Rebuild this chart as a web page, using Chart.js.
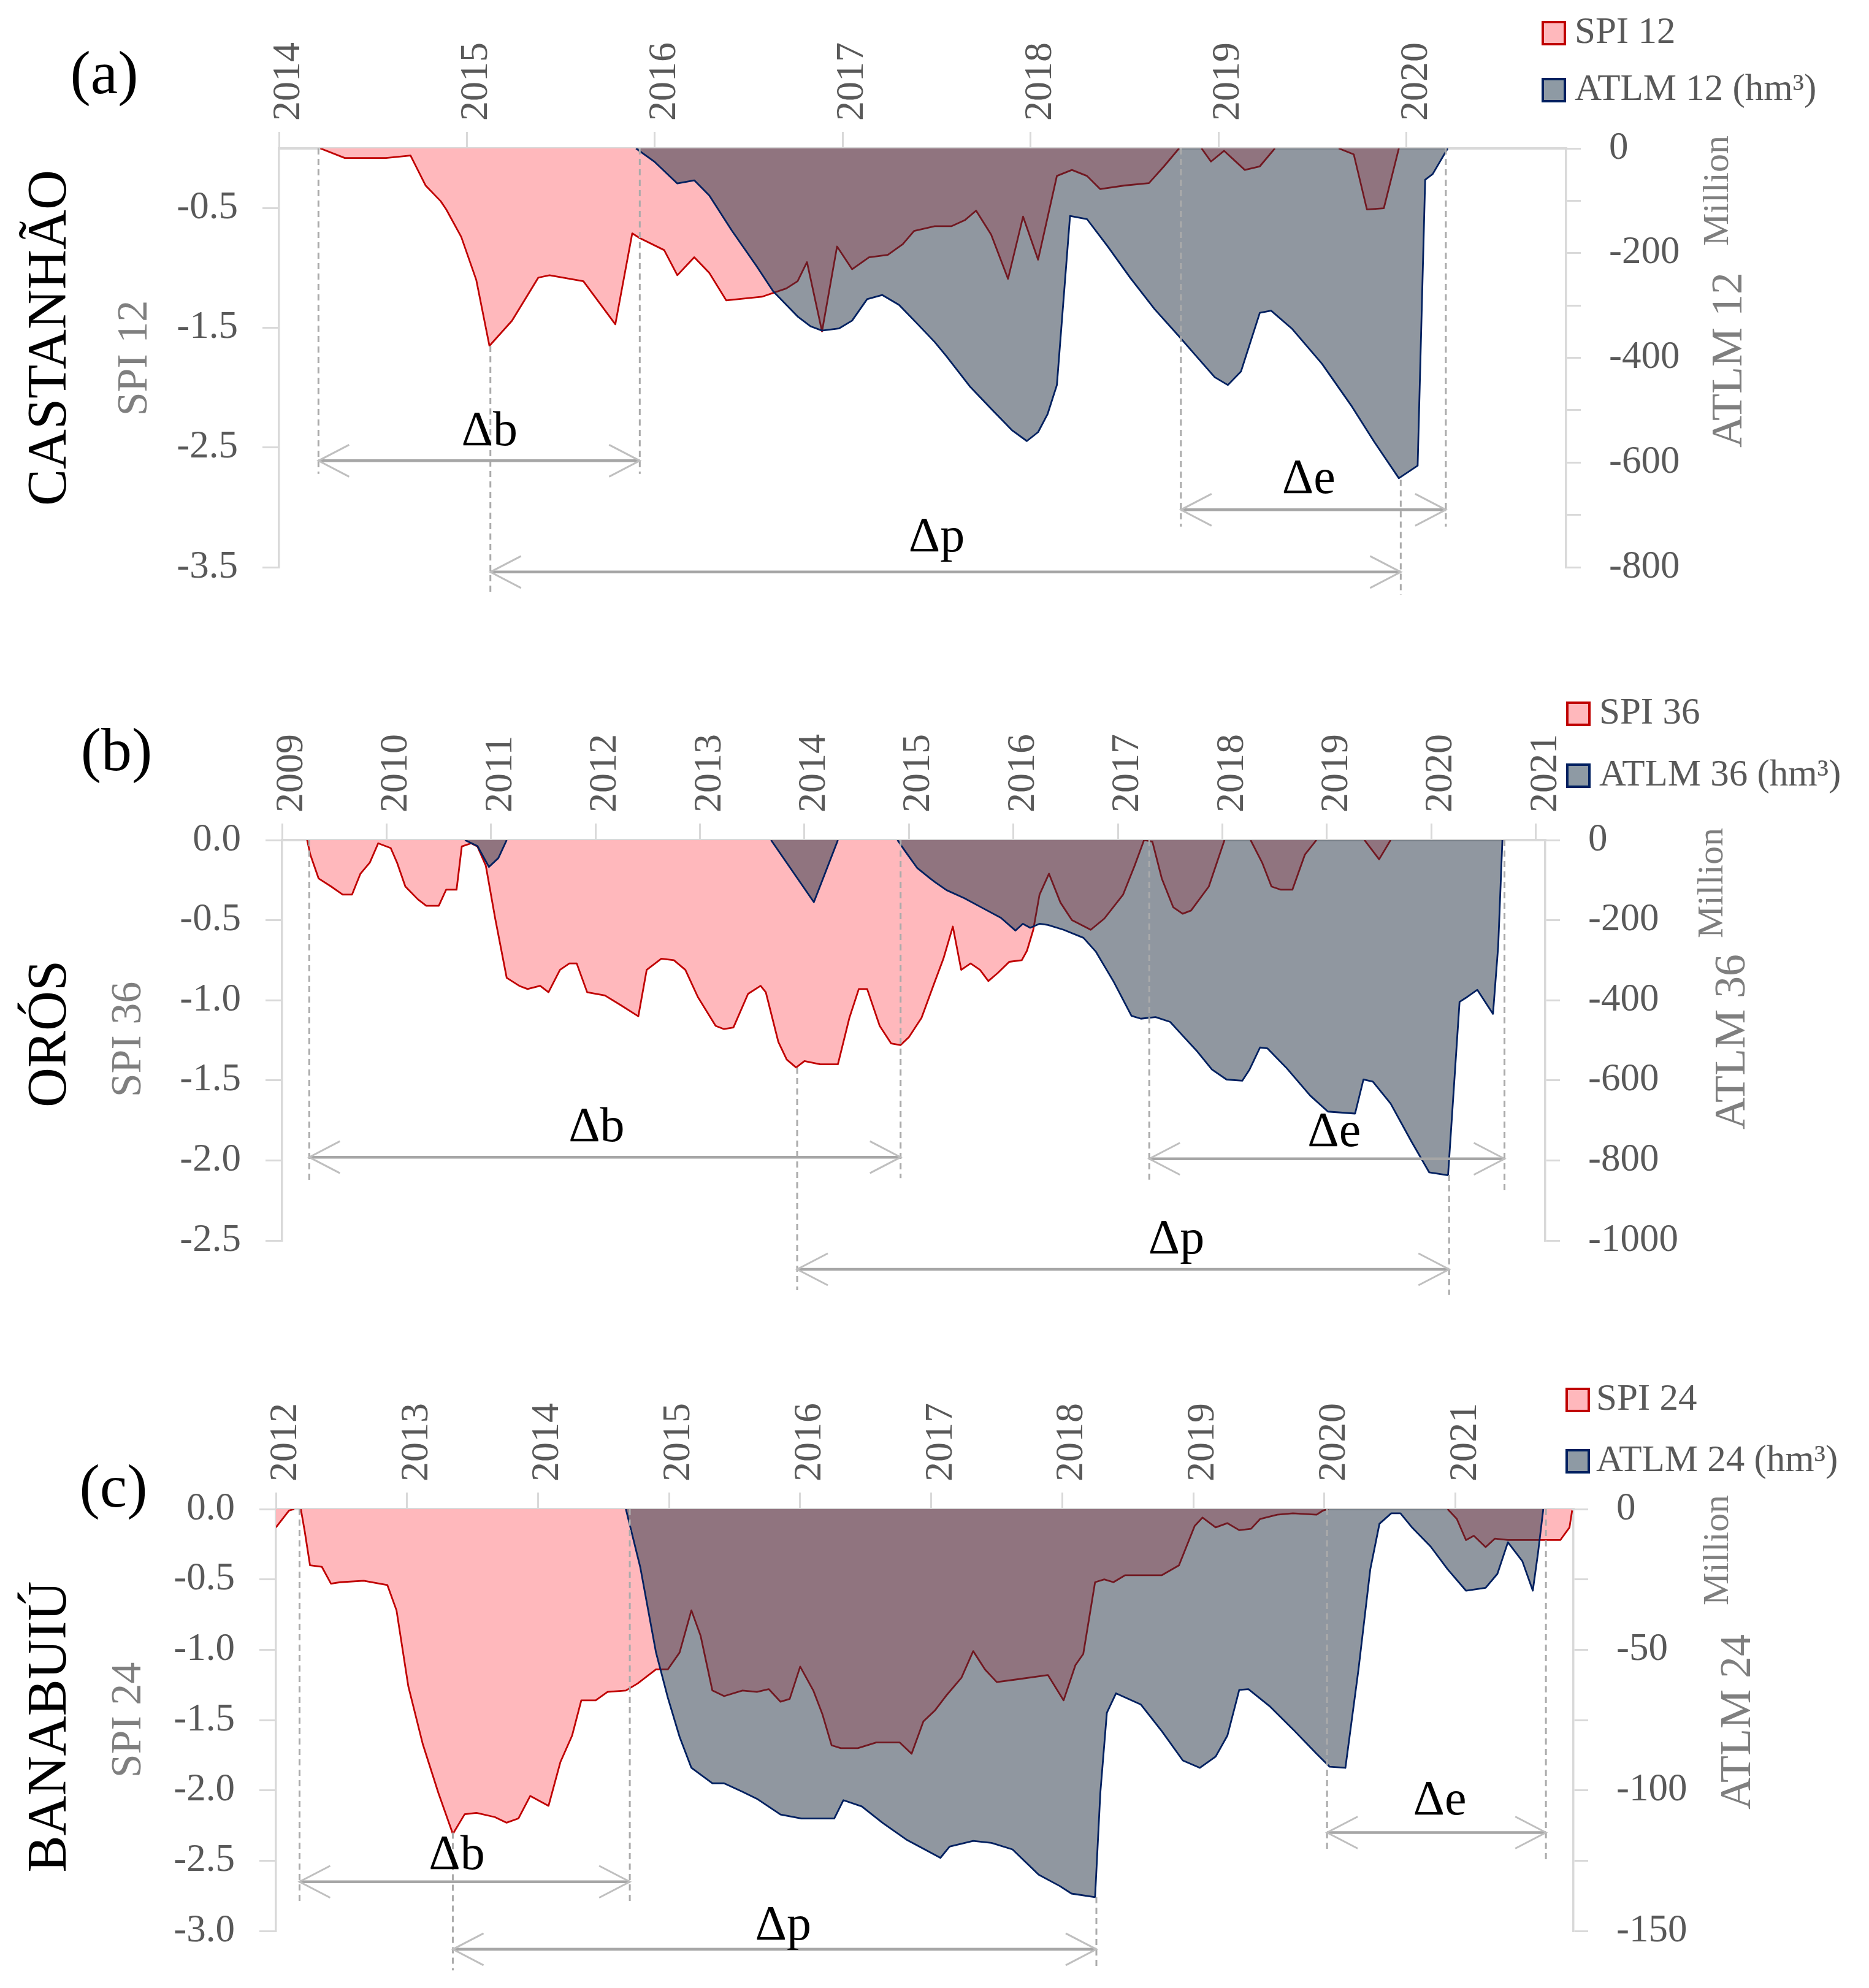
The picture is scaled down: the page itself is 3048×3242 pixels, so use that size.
<!DOCTYPE html>
<html>
<head>
<meta charset="utf-8">
<script src="https://cdn.jsdelivr.net/npm/chart.js@4.4.0/dist/chart.umd.min.js"></script>
<style>
  body { margin: 0; background: #fff; width: 3048px; height: 3242px; position: relative; overflow: hidden; }
  canvas { position: absolute; left: 0; }
</style>
</head>
<body>
<canvas id="chart-a" width="3048" height="1050" style="top:0px"></canvas>
<canvas id="chart-b" width="3048" height="1040" style="top:1100px"></canvas>
<canvas id="chart-c" width="3048" height="1042" style="top:2200px"></canvas>
<script>
// (a) Castanhão - SPI 12 and ATLM 12, x in decimal years
const castanhaoSpiT = [2014.22, 2014.35, 2014.57, 2014.70, 2014.78, 2014.86, 2014.89, 2014.97, 2015.05, 2015.12,
  2015.24, 2015.38, 2015.44, 2015.62, 2015.79, 2015.88, 2015.92, 2016.05, 2016.12, 2016.21,
  2016.29, 2016.38, 2016.57, 2016.70, 2016.76, 2016.81, 2016.89, 2016.97, 2017.05, 2017.14,
  2017.24, 2017.32, 2017.38, 2017.49, 2017.58, 2017.65, 2017.71, 2017.79, 2017.88, 2017.96,
  2018.04, 2018.14, 2018.22, 2018.30, 2018.37, 2018.50, 2018.63, 2018.71, 2018.79, 2018.91,
  2018.96, 2019.03, 2019.14, 2019.22, 2019.30, 2019.64, 2019.72, 2019.79, 2019.88, 2019.96];
const castanhaoSpi = [0, -0.08, -0.08, -0.06, -0.31, -0.44, -0.51, -0.74, -1.10, -1.65,
  -1.44, -1.08, -1.06, -1.11, -1.47, -0.71, -0.75, -0.85, -1.06, -0.91,
  -1.04, -1.27, -1.24, -1.17, -1.11, -0.95, -1.53, -0.82, -1.01, -0.91,
  -0.89, -0.80, -0.69, -0.65, -0.65, -0.60, -0.52, -0.72, -1.09, -0.57,
  -0.93, -0.23, -0.18, -0.23, -0.34, -0.31, -0.29, -0.15, 0, 0,
  -0.11, -0.02, -0.18, -0.15, 0, 0, -0.05, -0.51, -0.50, 0];
const castanhaoAtlmT = [2015.90, 2016.00, 2016.12, 2016.21, 2016.29, 2016.41, 2016.54, 2016.63, 2016.76, 2016.83,
  2016.89, 2016.98, 2017.05, 2017.13, 2017.21, 2017.30, 2017.40, 2017.49, 2017.55, 2017.68,
  2017.80, 2017.90, 2017.98, 2018.04, 2018.09, 2018.14, 2018.21, 2018.30, 2018.41, 2018.53,
  2018.66, 2018.79, 2018.88, 2018.98, 2019.05, 2019.12, 2019.22, 2019.28, 2019.39, 2019.55,
  2019.71, 2019.83, 2019.96, 2020.06, 2020.10, 2020.14, 2020.22];
const castanhaoAtlm = [0, -26, -67, -61, -90, -157, -224, -273, -321, -340,
  -348, -344, -329, -288, -280, -299, -336, -370, -396, -456,
  -501, -538, -559, -542, -508, -452, -129, -135, -187, -247,
  -307, -359, -396, -437, -452, -426, -314, -310, -344, -411,
  -493, -561, -630, -606, -60, -49, 0];
const castanhaoYears = [2014, 2015, 2016, 2017, 2018, 2019, 2020];
const castanhaoSpiTicks = [-3.5, -2.5, -1.5, -0.5];
const castanhaoAtlmTicks = [-800, -700, -600, -500, -400, -300, -200, -100, 0];

// (b) Orós - SPI 36 and ATLM 36
const orosSpiT = [2009.24, 2009.27, 2009.35, 2009.47, 2009.58, 2009.67, 2009.75, 2009.84, 2009.92, 2010.04,
  2010.10, 2010.18, 2010.30, 2010.38, 2010.50, 2010.57, 2010.67, 2010.72, 2010.81, 2010.87,
  2010.95, 2011.04, 2011.15, 2011.27, 2011.35, 2011.47, 2011.55, 2011.66, 2011.75, 2011.82,
  2011.92, 2012.09, 2012.24, 2012.41, 2012.49, 2012.63, 2012.75, 2012.86, 2012.98, 2013.15,
  2013.23, 2013.32, 2013.46, 2013.58, 2013.63, 2013.75, 2013.83, 2013.92, 2014.00, 2014.15,
  2014.32, 2014.43, 2014.52, 2014.60, 2014.72, 2014.83, 2014.92, 2015.00, 2015.12, 2015.25,
  2015.33, 2015.42, 2015.50, 2015.59, 2015.68, 2015.76, 2015.85, 2015.96, 2016.08, 2016.13,
  2016.19, 2016.25, 2016.34, 2016.45, 2016.56, 2016.74, 2016.87, 2017.05, 2017.16, 2017.25,
  2017.33, 2017.42, 2017.53, 2017.62, 2017.70, 2017.87, 2018.02, 2018.27, 2018.38, 2018.47,
  2018.56, 2018.67, 2018.79, 2018.90, 2019.36, 2019.50, 2019.61];
const orosSpi = [0, -0.09, -0.24, -0.29, -0.34, -0.34, -0.21, -0.14, -0.02, -0.05,
  -0.14, -0.29, -0.37, -0.41, -0.41, -0.31, -0.31, -0.04, -0.02, -0.04,
  -0.16, -0.49, -0.86, -0.91, -0.93, -0.91, -0.95, -0.81, -0.77, -0.77,
  -0.95, -0.97, -1.03, -1.10, -0.81, -0.74, -0.75, -0.81, -0.98, -1.16,
  -1.18, -1.17, -0.96, -0.91, -0.95, -1.26, -1.37, -1.42, -1.38, -1.40,
  -1.40, -1.11, -0.93, -0.93, -1.16, -1.27, -1.28, -1.23, -1.11, -0.88,
  -0.74, -0.54, -0.81, -0.77, -0.81, -0.88, -0.83, -0.76, -0.75, -0.69,
  -0.56, -0.34, -0.21, -0.39, -0.50, -0.56, -0.49, -0.34, -0.16, 0,
  -0.01, -0.24, -0.42, -0.46, -0.44, -0.29, 0, 0, -0.14, -0.29,
  -0.31, -0.31, -0.09, 0, 0, -0.12, 0];
const orosAtlmT = [2010.75, 2010.87, 2010.98, 2011.07, 2011.15, 2013.68, 2014.09, 2014.32, 2014.89, 2014.97,
  2015.08, 2015.20, 2015.25, 2015.36, 2015.53, 2015.70, 2015.88, 2016.02, 2016.09, 2016.16,
  2016.25, 2016.33, 2016.48, 2016.67, 2016.79, 2016.96, 2017.13, 2017.22, 2017.36, 2017.50,
  2017.64, 2017.76, 2017.90, 2018.04, 2018.19, 2018.26, 2018.36, 2018.43, 2018.61, 2018.84,
  2019.01, 2019.27, 2019.35, 2019.44, 2019.61, 2019.81, 2019.98, 2020.16, 2020.27, 2020.33,
  2020.44, 2020.59, 2020.64, 2020.68];
const orosAtlm = [0, -15, -67, -45, 0, 0, -155, 0, 0, -30,
  -70, -95, -105, -125, -145, -169, -194, -226, -209, -219,
  -209, -212, -224, -244, -279, -354, -439, -446, -442, -454,
  -494, -528, -573, -598, -601, -573, -518, -520, -568, -638,
  -678, -683, -598, -603, -658, -753, -830, -837, -404, -394,
  -374, -434, -264, 0];
const orosYears = [2009, 2010, 2011, 2012, 2013, 2014, 2015, 2016, 2017, 2018, 2019, 2020, 2021];
const orosSpiTicks = [-2.5, -2.0, -1.5, -1.0, -0.5, 0];
const orosAtlmTicks = [-1000, -800, -600, -400, -200, 0];

// (c) Banabuiú - SPI 24 and ATLM 24
const banabuiuSpiT = [2012.00, 2012.10, 2012.14, 2012.19, 2012.22, 2012.26, 2012.35, 2012.42, 2012.49, 2012.67,
  2012.85, 2012.92, 2013.01, 2013.12, 2013.24, 2013.35, 2013.44, 2013.53, 2013.67, 2013.76,
  2013.85, 2013.94, 2014.08, 2014.17, 2014.26, 2014.33, 2014.44, 2014.53, 2014.67, 2014.76,
  2014.90, 2014.99, 2015.08, 2015.17, 2015.24, 2015.33, 2015.42, 2015.56, 2015.67, 2015.76,
  2015.85, 2015.92, 2016.00, 2016.10, 2016.17, 2016.24, 2016.31, 2016.44, 2016.58, 2016.76,
  2016.85, 2016.94, 2017.03, 2017.12, 2017.23, 2017.32, 2017.41, 2017.50, 2017.66, 2017.89,
  2018.01, 2018.10, 2018.16, 2018.25, 2018.32, 2018.39, 2018.48, 2018.76, 2018.89, 2019.01,
  2019.07, 2019.17, 2019.26, 2019.35, 2019.44, 2019.51, 2019.64, 2019.76, 2019.94, 2019.99,
  2020.03, 2020.94, 2021.01, 2021.08, 2021.14, 2021.23, 2021.30, 2021.40, 2021.62, 2021.71,
  2021.80, 2021.87, 2021.89];
const banabuiuSpi = [-0.13, -0.01, 0, 0, -0.16, -0.40, -0.41, -0.53, -0.52, -0.51,
  -0.54, -0.72, -1.26, -1.67, -2.02, -2.31, -2.17, -2.16, -2.19, -2.23,
  -2.20, -2.04, -2.11, -1.80, -1.61, -1.36, -1.36, -1.30, -1.29, -1.24,
  -1.14, -1.14, -1.02, -0.72, -0.90, -1.29, -1.33, -1.29, -1.30, -1.28,
  -1.37, -1.35, -1.12, -1.29, -1.46, -1.68, -1.70, -1.70, -1.66, -1.66,
  -1.74, -1.51, -1.43, -1.32, -1.20, -1.01, -1.14, -1.23, -1.21, -1.18,
  -1.36, -1.11, -1.03, -0.52, -0.50, -0.52, -0.47, -0.47, -0.40, -0.12,
  -0.06, -0.13, -0.10, -0.15, -0.14, -0.07, -0.04, -0.03, -0.04, -0.01,
  0, 0, -0.07, -0.22, -0.19, -0.27, -0.21, -0.22, -0.22, -0.22,
  -0.22, -0.13, -0.01];
const banabuiuAtlmT = [2014.67, 2014.78, 2014.90, 2014.99, 2015.08, 2015.17, 2015.33, 2015.42, 2015.56, 2015.67,
  2015.85, 2016.01, 2016.13, 2016.26, 2016.33, 2016.47, 2016.63, 2016.81, 2016.95, 2017.07,
  2017.14, 2017.32, 2017.46, 2017.62, 2017.82, 2017.98, 2018.07, 2018.25, 2018.29, 2018.34,
  2018.41, 2018.60, 2018.76, 2018.92, 2019.05, 2019.17, 2019.26, 2019.35, 2019.42, 2019.58,
  2019.76, 2019.94, 2020.04, 2020.16, 2020.26, 2020.35, 2020.42, 2020.51, 2020.58, 2020.67,
  2020.81, 2020.94, 2021.08, 2021.23, 2021.32, 2021.40, 2021.51, 2021.59, 2021.63, 2021.67];
const banabuiuAtlm = [0, -20.7, -51, -67, -81, -92, -97.5, -97.5, -100.5, -103,
  -108.6, -110, -110, -110, -103.5, -105.7, -111.6, -117.5, -121, -124,
  -120, -118, -118.7, -121, -130, -134, -136.7, -138, -101, -72.4,
  -65.5, -69.5, -79, -89.4, -92, -88, -80.5, -64.3, -64, -70,
  -78.3, -87, -91.6, -92, -57, -21.4, -5.2, -1.5, -1.5, -6.6,
  -13.3, -21.4, -29, -28, -23, -11.8, -18.5, -29, -15.5, 0];
const banabuiuYears = [2012, 2013, 2014, 2015, 2016, 2017, 2018, 2019, 2020, 2021];
const banabuiuSpiTicks = [-3.0, -2.5, -2.0, -1.5, -1.0, -0.5, 0];
const banabuiuAtlmTicks = [-150, -125, -100, -75, -50, -25, 0];

const FONT = "'Liberation Serif', 'Times New Roman', serif";
const GREY_TXT = '#595959';
const AXIS = '#D9D9D9';

// page layout of the three panels (page pixels)
const panels = [
  {
    canvas: 'chart-a', top: 0, area: [455, 242, 2554, 925], xMin: 2014, xMax: 2020.85,
    spiMin: -3.5, atlmMin: -800, atlmLabelStep: 200,
    spiT: castanhaoSpiT, spi: castanhaoSpi, atlmT: castanhaoAtlmT, atlm: castanhaoAtlm,
    years: castanhaoYears, spiTicks: castanhaoSpiTicks, atlmTicks: castanhaoAtlmTicks,
    spiName: 'SPI 12', atlmName: 'ATLM 12',
    tag: ['(a)', 170, 126], name: ['CASTANHÃO', 83, 551], spiTitle: [221, 584],
    million: [2802, 311], atlmTitle: [2821, 587], legend: [2516, 54, 147, 2568],
    dashes: [[2014.21, 0, -2.72], [2015.92, 0, -2.72], [2015.125, -1.65, -3.73],
             [2018.80, 0, -3.16], [2020.21, 0, -3.16], [2019.97, -2.77, -3.73]],
    arrows: [{ from: 2014.21, to: 2015.92, at: -2.61, text: 'Δb', tx: 2015.12, ty: -2.37 },
             { from: 2015.125, to: 2019.97, at: -3.54, text: 'Δp', tx: 2017.50, ty: -3.26 },
             { from: 2018.80, to: 2020.21, at: -3.02, text: 'Δe', tx: 2019.48, ty: -2.77 }]
  },
  {
    canvas: 'chart-b', top: 1100, area: [460, 1370, 2520, 2023], xMin: 2009, xMax: 2021.09,
    spiMin: -2.5, atlmMin: -1000, atlmLabelStep: 200,
    spiT: orosSpiT, spi: orosSpi, atlmT: orosAtlmT, atlm: orosAtlm,
    years: orosYears, spiTicks: orosSpiTicks, atlmTicks: orosAtlmTicks,
    spiName: 'SPI 36', atlmName: 'ATLM 36',
    tag: ['(b)', 190, 1230], name: ['ORÓS', 83, 1686], spiTitle: [211, 1695],
    million: [2793, 1440], atlmTitle: [2826, 1699], legend: [2556, 1164, 1265, 2608],
    dashes: [[2009.26, 0, -2.14], [2014.92, 0, -2.11], [2013.93, -1.42, -2.81],
             [2017.30, 0, -2.12], [2020.70, 0, -2.19], [2020.17, -2.09, -2.84]],
    arrows: [{ from: 2009.26, to: 2014.92, at: -1.98, text: 'Δb', tx: 2012.01, ty: -1.80 },
             { from: 2013.93, to: 2020.17, at: -2.68, text: 'Δp', tx: 2017.56, ty: -2.50 },
             { from: 2017.30, to: 2020.70, at: -1.99, text: 'Δe', tx: 2019.07, ty: -1.83 }]
  },
  {
    canvas: 'chart-c', top: 2200, area: [450, 2461, 2566, 3149], xMin: 2012, xMax: 2021.90,
    spiMin: -3, atlmMin: -150, atlmLabelStep: 50,
    spiT: banabuiuSpiT, spi: banabuiuSpi, atlmT: banabuiuAtlmT, atlm: banabuiuAtlm,
    years: banabuiuYears, spiTicks: banabuiuSpiTicks, atlmTicks: banabuiuAtlmTicks,
    spiName: 'SPI 24', atlmName: 'ATLM 24',
    tag: ['(c)', 185, 2431], name: ['BANABUIÚ', 83, 2816], spiTitle: [211, 2805],
    million: [2802, 2528], atlmTitle: [2835, 2808], legend: [2555, 2283, 2383, 2603],
    dashes: [[2012.18, 0, -2.79], [2014.70, 0, -2.79], [2013.35, -2.30, -3.28],
             [2018.26, -2.76, -3.26], [2020.02, 0, -2.42], [2021.69, 0, -2.51]],
    arrows: [{ from: 2012.18, to: 2014.70, at: -2.65, text: 'Δb', tx: 2013.38, ty: -2.47 },
             { from: 2013.35, to: 2018.26, at: -3.13, text: 'Δp', tx: 2015.87, ty: -2.97 },
             { from: 2020.02, to: 2021.69, at: -2.30, text: 'Δe', tx: 2020.88, ty: -2.08 }]
  }
];

// pair up x/y, and break the line where it just runs along zero
function toPoints(ts, vs) {
  const pts = [];
  ts.forEach((t, i) => {
    if (i > 0 && vs[i] === 0 && vs[i - 1] === 0) pts.push({ x: (t + ts[i - 1]) / 2, y: null });
    pts.push({ x: t, y: vs[i] });
  });
  return pts;
}

function drawText(ctx, str, x, y, size, color, rotate) {
  ctx.save();
  ctx.translate(x, y);
  if (rotate) ctx.rotate(-Math.PI / 2);
  ctx.font = size + 'px ' + FONT;
  ctx.fillStyle = color;
  ctx.textAlign = 'center';
  ctx.textBaseline = 'middle';
  ctx.fillText(str, 0, 0);
  ctx.restore();
}

// dashed guides, double arrows, side titles and legend
const extras = {
  id: 'extras',
  afterDraw(chart, args, p) {
    const ctx = chart.ctx;
    const xs = chart.scales.x, ys = chart.scales.y;
    const off = p.top;
    ctx.save();

    ctx.strokeStyle = '#ABABAB';
    ctx.lineWidth = 3;
    ctx.setLineDash([10, 7]);
    p.dashes.forEach(([t, v1, v2]) => {
      const px = xs.getPixelForValue(t);
      ctx.beginPath();
      ctx.moveTo(px, ys.getPixelForValue(v1));
      ctx.lineTo(px, ys.getPixelForValue(v2));
      ctx.stroke();
    });
    ctx.setLineDash([]);

    p.arrows.forEach(a => {
      const x1 = xs.getPixelForValue(a.from), x2 = xs.getPixelForValue(a.to), py = ys.getPixelForValue(a.at);
      ctx.strokeStyle = '#A6A6A6';
      ctx.lineWidth = 4.5;
      ctx.beginPath(); ctx.moveTo(x1, py); ctx.lineTo(x2, py); ctx.stroke();
      ctx.strokeStyle = '#BFBFBF';
      ctx.lineWidth = 3;
      ctx.beginPath(); ctx.moveTo(x1 + 50, py - 26); ctx.lineTo(x1, py); ctx.lineTo(x1 + 50, py + 26); ctx.stroke();
      ctx.beginPath(); ctx.moveTo(x2 - 50, py - 26); ctx.lineTo(x2, py); ctx.lineTo(x2 - 50, py + 26); ctx.stroke();
      drawText(ctx, a.text, xs.getPixelForValue(a.tx), ys.getPixelForValue(a.ty), 80, '#000', false);
    });

    drawText(ctx, p.tag[0], p.tag[1], p.tag[2] - off, 100, '#000', false);
    drawText(ctx, p.name[0], p.name[1], p.name[2] - off, 90, '#000', true);
    drawText(ctx, p.spiName, p.spiTitle[0], p.spiTitle[1] - off, 70, '#7F7F7F', true);
    drawText(ctx, 'Million', p.million[0], p.million[1] - off, 60, '#7F7F7F', true);
    drawText(ctx, p.atlmName, p.atlmTitle[0], p.atlmTitle[1] - off, 72, '#7F7F7F', true);

    const [bx, y1, y2, tx] = p.legend;
    const box = 36;
    ctx.lineWidth = 4;
    ctx.fillStyle = '#FFB8BC'; ctx.strokeStyle = '#C00000';
    ctx.fillRect(bx, y1 - off - box / 2, box, box); ctx.strokeRect(bx, y1 - off - box / 2, box, box);
    ctx.fillStyle = '#8E9AA4'; ctx.strokeStyle = '#002060';
    ctx.fillRect(bx, y2 - off - box / 2, box, box); ctx.strokeRect(bx, y2 - off - box / 2, box, box);
    ctx.font = '61px ' + FONT;
    ctx.fillStyle = GREY_TXT;
    ctx.textAlign = 'left';
    ctx.textBaseline = 'middle';
    ctx.fillText(p.spiName, tx, y1 - off);
    ctx.fillText(p.atlmName + ' (hm³)', tx, y2 - off);

    ctx.restore();
  }
};

panels.forEach(p => {
  const canvas = document.getElementById(p.canvas);
  const [L, T, R, B] = p.area;
  new Chart(canvas, {
    type: 'line',
    data: {
      datasets: [{
        label: p.spiName,
        data: toPoints(p.spiT, p.spi),
        yAxisID: 'y',
        borderColor: '#C00000',
        backgroundColor: '#FFB8BC',
        fill: 'origin',
        borderWidth: 2.8,
        pointRadius: 0,
        tension: 0,
        spanGaps: false,
        order: 2
      }, {
        label: p.atlmName + ' (hm³)',
        data: toPoints(p.atlmT, p.atlm),
        yAxisID: 'y2',
        borderColor: '#002060',
        backgroundColor: 'rgba(33,48,66,0.5)',
        fill: 'origin',
        borderWidth: 2.8,
        pointRadius: 0,
        tension: 0,
        spanGaps: false,
        order: 1
      }]
    },
    options: {
      responsive: false,
      animation: false,
      layout: { padding: { top: 0, left: 0, right: 0, bottom: canvas.height - (B - p.top) } },
      elements: { line: { borderJoinStyle: 'round' } },
      scales: {
        x: {
          type: 'linear', position: 'top', min: p.xMin, max: p.xMax, z: 1,
          afterFit: s => { s.height = T - p.top; },
          afterBuildTicks: s => { s.ticks = p.years.map(v => ({ value: v })); },
          ticks: { autoSkip: false, minRotation: 90, maxRotation: 90, padding: 18, labelOffset: 93,
                   color: GREY_TXT, font: { family: FONT, size: 64 }, callback: v => String(v) },
          grid: { drawOnChartArea: false, drawTicks: true, tickLength: 27, color: AXIS, lineWidth: 3 },
          border: { display: true, color: AXIS, width: 4 }
        },
        y: {
          position: 'left', min: p.spiMin, max: 0,
          afterFit: s => { s.width = L; },
          afterBuildTicks: s => { s.ticks = p.spiTicks.map(v => ({ value: v })); },
          ticks: { padding: 40, color: GREY_TXT, font: { family: FONT, size: 63 }, callback: v => v.toFixed(1) },
          grid: { drawOnChartArea: false, drawTicks: true, tickLength: 27, color: AXIS, lineWidth: 3 },
          border: { display: true, color: AXIS, width: 3.5 }
        },
        y2: {
          position: 'right', min: p.atlmMin, max: 0,
          afterFit: s => { s.width = canvas.width - R; },
          afterBuildTicks: s => { s.ticks = p.atlmTicks.map(v => ({ value: v })); },
          ticks: { padding: 46, color: GREY_TXT, font: { family: FONT, size: 63 },
                   callback: v => (v % p.atlmLabelStep === 0 ? String(v) : '') },
          grid: { drawOnChartArea: false, drawTicks: true, tickLength: 24, color: AXIS, lineWidth: 3 },
          border: { display: true, color: AXIS, width: 3.5 }
        }
      },
      plugins: {
        legend: { display: false },
        tooltip: { enabled: false },
        extras: p
      }
    },
    plugins: [extras]
  });
});
</script>
</body>
</html>
